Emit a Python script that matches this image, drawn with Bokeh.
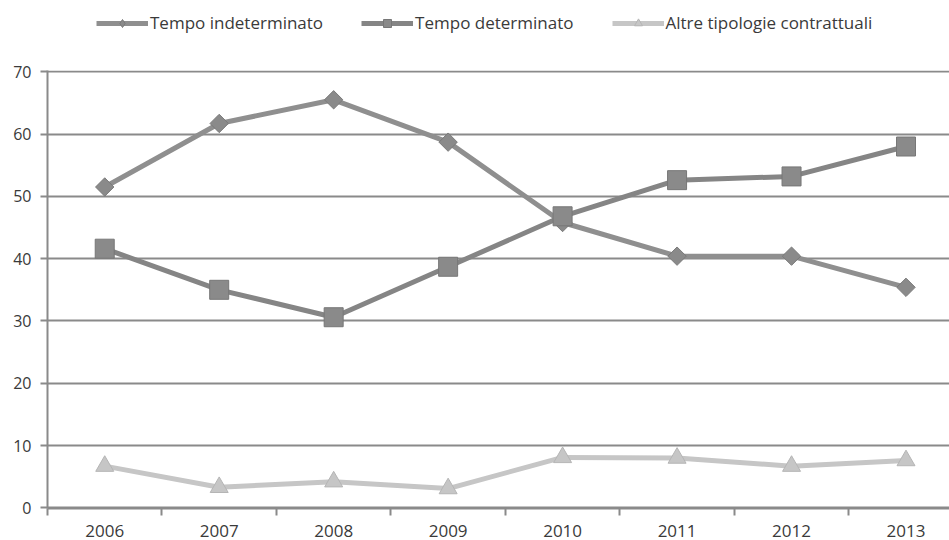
import math
from bokeh.plotting import figure
from bokeh.models import Range1d, FixedTicker, Legend, LegendItem
from bokeh.layouts import column
from bokeh.embed import file_html
from bokeh.resources import INLINE

years = ["2006", "2007", "2008", "2009", "2010", "2011", "2012", "2013"]
indeterminato = [51.5, 61.7, 65.5, 58.7, 45.8, 40.4, 40.4, 35.4]
determinato = [41.6, 35.0, 30.6, 38.7, 46.8, 52.6, 53.2, 58.0]
altre = [6.7, 3.3, 4.2, 3.1, 8.1, 8.0, 6.7, 7.6]
y_ticks = [0, 10, 20, 30, 40, 50, 60, 70]
series_names = ["Tempo indeterminato", "Tempo determinato", "Altre tipologie contrattuali"]

FONT = "Open Sans"
TXT = "#3a3a3a"
GRID = "#8a8a8a"

styles = [
    dict(line="#8f8f8f", marker="square", leg_marker="diamond", angle=math.pi / 4, size=13,
         fill="#8a8a8a", edge="#7a7a7a"),
    dict(line="#858585", marker="square", leg_marker="square", angle=0.0, size=19,
         fill="#8a8a8a", edge="#777777"),
    dict(line="#c6c6c6", marker="triangle", leg_marker="triangle", angle=0.0, size=18,
         fill="#c6c6c6", edge="#b5b5b5"),
]
all_series = [indeterminato, determinato, altre]

xs = list(range(len(years)))

p = figure(width=949, height=496, output_backend="svg", toolbar_location=None,
           x_range=Range1d(-0.5, 7.38), y_range=Range1d(-0.1, 70.2),
           min_border_left=47, min_border_right=0, min_border_top=26, min_border_bottom=32)
p.outline_line_color = None
p.background_fill_color = "white"
p.border_fill_color = "white"

for vals, st in zip(all_series, styles):
    p.line(xs, vals, line_color=st["line"], line_width=5)
    p.scatter(xs, vals, marker=st["marker"], angle=st["angle"], size=st["size"],
              fill_color=st["fill"], line_color=st["edge"])

p.xaxis.ticker = FixedTicker(ticks=xs, minor_ticks=[i - 0.5 for i in range(len(years) + 1)])
p.xaxis.major_label_overrides = {i: y for i, y in enumerate(years)}
p.xaxis.major_tick_out = 0
p.xaxis.major_tick_in = 0
p.xaxis.minor_tick_out = 7
p.xaxis.minor_tick_in = 0
p.xaxis.minor_tick_line_color = GRID
p.xaxis.minor_tick_line_width = 2
p.xaxis.axis_line_color = GRID
p.xaxis.axis_line_width = 2
p.xaxis.major_label_standoff = 9
p.xaxis.major_label_text_font_size = "17px"

p.yaxis.ticker = FixedTicker(ticks=y_ticks)
p.yaxis.major_tick_out = 7
p.yaxis.major_tick_in = 0
p.yaxis.minor_tick_line_color = None
p.yaxis.major_tick_line_color = GRID
p.yaxis.major_tick_line_width = 2
p.yaxis.axis_line_color = GRID
p.yaxis.axis_line_width = 2
p.yaxis.major_label_standoff = 9
p.yaxis.major_label_text_font_size = "16px"

for ax in (p.xaxis, p.yaxis):
    ax.major_label_text_font = FONT
    ax.major_label_text_color = TXT

p.xgrid.grid_line_color = None
p.ygrid.grid_line_color = GRID
p.ygrid.grid_line_width = 2

# legend strip above the chart (its series lie outside this strip's ranges)
lf = figure(width=949, height=44, output_backend="svg", toolbar_location=None,
            x_range=Range1d(0, 1), y_range=Range1d(-10, -9),
            min_border_left=47, min_border_right=0, min_border_top=0, min_border_bottom=0)
lf.axis.visible = False
lf.grid.visible = False
lf.outline_line_color = None
lf.background_fill_color = "white"
lf.border_fill_color = "white"
items = []
for name, vals, st in zip(series_names, all_series, styles):
    rl = lf.line(xs, vals, line_color=st["line"], line_width=5)
    rm = lf.scatter(xs, vals, marker=st["leg_marker"], size=st["size"],
                    fill_color=st["fill"], line_color=st["edge"])
    items.append(LegendItem(label=name, renderers=[rl, rm]))
legend = Legend(items=items, orientation="horizontal", location=(49, 10))
legend.glyph_width = 52
legend.glyph_height = 20
legend.label_standoff = 2
legend.spacing = 38
legend.padding = 2
legend.margin = 0
legend.border_line_color = None
legend.background_fill_alpha = 0
legend.label_text_font = FONT
legend.label_text_font_size = "17px"
legend.label_text_color = TXT
lf.add_layout(legend, "center")

layout = column(lf, p, spacing=0)
open("out.html", "w").write(file_html(layout, INLINE))
